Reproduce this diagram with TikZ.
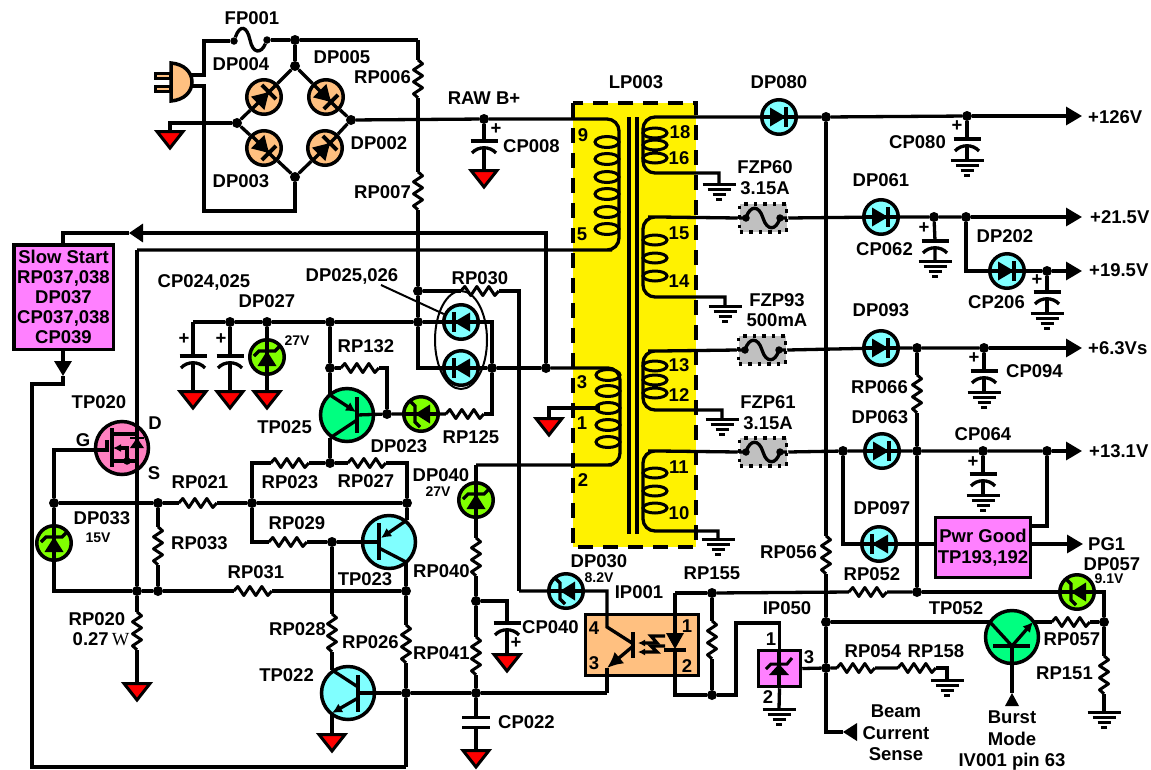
\documentclass[tikz,border=0pt]{standalone}
\usepackage{fontspec}
\setmainfont{Liberation Sans}
\newfontfamily\wfont{Liberation Serif}
\usepackage{xcolor}
\usetikzlibrary{arrows.meta}

\definecolor{diodecy}{HTML}{80FFFF}
\definecolor{diodeor}{HTML}{FFC080}
\definecolor{zenergr}{HTML}{80FF00}
\definecolor{trangr}{HTML}{00FF80}
\definecolor{boxmag}{HTML}{FF80FF}
\definecolor{fetpink}{HTML}{FF80C0}
\definecolor{fusegr}{HTML}{C0C0C0}

\tikzset{
	wire/.style={line width=3.3pt},
	rail/.style={line width=3.3pt,-{Triangle[length=16pt,width=18pt]}},
	zig/.style={line width=3pt,line join=round},
	turn/.style={line width=3pt},
	dot/.style={circle,fill=black,minimum size=10pt,inner sep=0pt},
	smalldot/.style={circle,fill=black,minimum size=7.5pt,inner sep=0pt},
	diodecirc/.style={circle,draw,line width=3.5pt,minimum size=34.5pt,inner sep=0pt},
	trancirc/.style={circle,draw,line width=3.5pt,minimum size=53pt,inner sep=0pt},
	rescell/.style={rectangle,inner sep=0pt},
	capcell/.style={rectangle,inner sep=0pt,minimum width=27pt,minimum height=7pt,anchor=north},
	magbox/.style={rectangle,draw,line width=3.5pt,fill=boxmag,inner sep=0pt,align=center},
	fusecell/.style={rectangle,fill=fusegr,draw,line width=3.5pt,dash pattern=on 3.5pt off 6pt,inner sep=0pt,minimum width=47pt,minimum height=28pt},
	lbl/.style={font=\bfseries\fontsize{18.5}{20.5}\selectfont,inner sep=0pt,align=center},
	small/.style={font=\bfseries\fontsize{14}{16}\selectfont,inner sep=0pt},
}

\newcommand{\jn}[2]{\node[dot] (#1) at (#2) {};}
\newcommand{\resh}[2]{\node[rescell,minimum width=38pt,minimum height=10pt] (#1) at (#2) {};
	\draw[zig] (#1.west) -- ++(4,-4.5) -- ++(6,9) -- ++(6,-9) -- ++(6,9) -- ++(6,-9) -- ++(6,9) -- ++(4,-4.5);}
\newcommand{\resv}[2]{\node[rescell,minimum width=10pt,minimum height=38pt] (#1) at (#2) {};
	\draw[zig] (#1.north) -- ++(4.5,4) -- ++(-9,6) -- ++(9,6) -- ++(-9,6) -- ++(9,6) -- ++(-9,6) -- ++(4.5,4);}
\newcommand{\rgnd}[2]{\coordinate (#1) at (#2);
	\draw[line width=3pt,fill=red] (#1) ++(-13,1.5) -- ++(26,0) -- ++(-13,16.5) -- cycle;}
\newcommand{\bgnd}[2]{\coordinate (#1) at (#2);
	\draw[line width=3pt] (#1) ++(-16.5,0) -- +(33,0) (#1) ++(-11.5,5) -- +(23,0) (#1) ++(-6.5,10) -- +(13,0) (#1) ++(-3,15) -- +(6,0);}
\newcommand{\capa}[2]{\node[capcell] (#1) at (#2) {};
	\begin{scope}[shift={(#2)}]
	\draw[wire] (-13.5,0) -- (13.5,0);
	\draw[wire] (-12,12) .. controls (-6,5) and (6,5) .. (12,12);
	\end{scope}}
\newcommand{\diode}[4]{\node[diodecirc,fill=#4] (#1) at (#2) {};
	\begin{scope}[shift={(#2)},rotate=#3]
	\draw[wire] (-17,0) -- (17,0);
	\fill (-9,-9.5) -- (-9,9.5) -- (7,0) -- cycle;
	\draw[line width=4pt] (7,-10) -- (7,10);
	\end{scope}}
\newcommand{\zener}[4]{\node[diodecirc,fill=#4] (#1) at (#2) {};
	\begin{scope}[shift={(#2)},rotate=#3]
	\draw[wire] (-17,0) -- (17,0);
	\fill (-9,-9.5) -- (-9,9.5) -- (6,0) -- cycle;
	\draw[line width=3.2pt] (1,-13) -- (6,-8) -- (6,8) -- (11,13);
	\end{scope}}
\newcommand{\fusebox}[2]{\node[fusecell] (#1) at (#2) {};
	\begin{scope}[shift={(#2)}]
	\draw[wire] (-24,0) -- (-17,0) .. controls (-13,-13) and (-4,-13) .. (0,0) .. controls (4,13) and (13,13) .. (17,0) -- (24,0);
	\node[smalldot] (#1a) at (-17,0) {};
	\node[smalldot] (#1b) at (17,0) {};
	\end{scope}}

\begin{document}
\begin{tikzpicture}[x=1pt,y=-1pt]
\useasboundingbox (0,0) rectangle (1151,769);
% transformer body first
\node[rectangle,fill=yellow,minimum width=123pt,minimum height=444pt,inner sep=0pt] (LP003) at (634.5,325) {};
\draw[line width=3.8pt] (629,117) -- (629,534) (637,117) -- (637,534);

% mains plug and bridge
\draw[line width=3pt,fill=diodeor] (155,73.5) rectangle (170,78.5) (155,86.5) rectangle (170,91.5);
\draw[line width=3.5pt,fill=diodeor] (171,63) .. controls (184,64) and (192,72) .. (192,82) .. controls (192,92) and (184,100) .. (171,101) -- cycle;
\coordinate (plugt) at (191,75);
\coordinate (plugb) at (190,86);
\jn{jF}{295,40}
\jn{jT}{295,66}
\jn{jL}{237,123}
\jn{jR}{351,120}
\jn{jB}{295,177}
\diode{DP004}{264,97}{45}{diodeor}
\diode{DP005}{326,97}{-45}{diodeor}
\diode{DP003}{264,148}{-45}{diodeor}
\diode{DP002}{325,148}{45}{diodeor}
\node[smalldot] (FPa) at (234,41) {};
\node[smalldot] (FPb) at (267,40) {};
\draw[wire] (FPa) .. controls (240,24) and (247,26) .. (250,40) .. controls (253,54) and (261,54) .. (FPb);
\coordinate (cA) at (204,41);
\coordinate (cB) at (204,211);
\coordinate (cC) at (418,40);
\rgnd{gL}{170,130}
\draw[wire] (plugt) -| (cA) -- (FPa);
\draw[wire] (plugb) -| (cB) -| (jB);
\draw[wire] (FPb) -- (jF) -- (cC);
\draw[wire] (jF) -- (jT);
\draw[wire] (jL) -| (gL);
\draw[wire] (jT) -- (DP004) (DP004) -- (jL) (jL) -- (DP003) (DP003) -- (jB);
\draw[wire] (jT) -- (DP005) (DP005) -- (jR) (jB) -- (DP002) (DP002) -- (jR);

% RAW B+
\jn{jRAW}{484,119}
\capa{CP008}{484,141}
\rgnd{gCP008}{484,169}
\draw[wire] (jR) -- (jRAW);
\draw[wire] (jRAW) -- (CP008.north) (CP008.south) -- (gCP008);
\draw[wire] (jRAW) [rounded corners=12pt] -- (619,119) -- (619,250) -- (600,250) [sharp corners] -- (137,250);

% windings
\draw[turn] (607,142) ellipse (12pt and 5.5pt) (607,159) ellipse (12pt and 5.5pt) (607,177) ellipse (12pt and 5.5pt) (607,194) ellipse (12pt and 5.5pt) (607,212) ellipse (12pt and 5.5pt) (607,229) ellipse (12pt and 5.5pt);
\draw[turn] (608,375) ellipse (12pt and 5.5pt) (608,391) ellipse (12pt and 5.5pt) (608,408) ellipse (12pt and 5.5pt) (608,425) ellipse (12pt and 5.5pt) (608,442) ellipse (12pt and 5.5pt);
\draw[turn] (655,133) ellipse (12pt and 5pt) (655,145) ellipse (12pt and 5pt) (655,158) ellipse (12pt and 5pt);
\draw[turn] (655,240) ellipse (12pt and 5pt) (655,258) ellipse (12pt and 5pt) (655,276) ellipse (12pt and 5pt);
\draw[turn] (655,366) ellipse (12pt and 5pt) (655,380) ellipse (12pt and 5pt) (655,393) ellipse (12pt and 5pt);
\draw[turn] (655,473) ellipse (12pt and 5pt) (655,491) ellipse (12pt and 5pt) (655,508) ellipse (12pt and 5pt);

% secondaries
\diode{DP080}{779,117}{0}{diodecy}
\jn{j126}{826,117}
\jn{jCP080}{967,116}
\coordinate (t126) at (1082,116);
\capa{CP080}{967,139}
\bgnd{gCP080}{967,160}
\bgnd{gW1}{719,184}
\draw[wire] (gW1) |- (660,173) [rounded corners=12pt] -- (643,173) -- (643,117) -- (DP080);
\draw[wire] (DP080) -- (j126) -- (jCP080);
\draw[rail] (jCP080) -- (t126);
\draw[wire] (jCP080) -- (CP080.north) (CP080.south) -- (gCP080);

\fusebox{FZP60}{763,218}
\diode{DP061}{881,217}{0}{diodecy}
\jn{jCP062}{934,217}
\jn{j215}{966,217}
\coordinate (t215) at (1082,217);
\capa{CP062}{935,241}
\bgnd{gCP062}{935,261}
\coordinate (c202) at (966,271);
\diode{DP202}{1007,271}{0}{diodecy}
\jn{jCP206}{1047,271}
\coordinate (t195) at (1082,271);
\capa{CP206}{1047,292}
\bgnd{gCP206}{1047,313}
\bgnd{gW2}{725,306}
\draw[wire] (gW2) |- (660,297) [rounded corners=12pt] -- (643,297) -- (643,217) -- (660,217) [sharp corners] -- (FZP60.west);
\draw[wire] (FZP60.east) -- (DP061) (DP061) -- (jCP062) -- (j215);
\draw[rail] (j215) -- (t215);
\draw[wire] (jCP062) -- (CP062.north) (CP062.south) -- (gCP062);
\draw[wire] (j215) -- (c202) -- (DP202) (DP202) -- (jCP206);
\draw[rail] (jCP206) -- (t195);
\draw[wire] (jCP206) -- (CP206.north) (CP206.south) -- (gCP206);

\fusebox{FZP93}{762,350}
\diode{DP093}{881,348}{0}{diodecy}
\jn{jRP066}{917,348}
\jn{jCP094}{984,348}
\coordinate (t63) at (1082,348);
\capa{CP094}{984,371}
\bgnd{gCP094}{984,392}
\resv{RP066}{917,394}
\jn{j917}{917,451}
\jn{j592}{917,592}
\bgnd{gW3}{722,419}
\draw[wire] (gW3) |- (660,410) [rounded corners=12pt] -- (643,410) -- (643,351) -- (660,351) [sharp corners] -- (FZP93.west);
\draw[wire] (FZP93.east) -- (DP093) (DP093) -- (jRP066) -- (jCP094);
\draw[rail] (jCP094) -- (t63);
\draw[wire] (jCP094) -- (CP094.north) (CP094.south) -- (gCP094);
\draw[wire] (jRP066) -- (RP066.north) (RP066.south) -- (j917) -- (j592);

\fusebox{FZP61}{763,452}
\jn{j843}{843,451}
\diode{DP063}{882,451}{0}{diodecy}
\jn{jCP064}{983,451}
\jn{j1046}{1047,451}
\coordinate (t131) at (1082,451);
\capa{CP064}{983,474}
\bgnd{gCP064}{983,495}
\bgnd{gW4}{718,539}
\draw[wire] (gW4) |- (660,531) [rounded corners=12pt] -- (643,531) -- (643,451) -- (660,451) [sharp corners] -- (FZP61.west);
\draw[wire] (FZP61.east) -- (j843) -- (DP063) (DP063) -- (j917) -- (jCP064) -- (j1046);
\draw[rail] (j1046) -- (t131);
\draw[wire] (jCP064) -- (CP064.north) (CP064.south) -- (gCP064);

\diode{DP097}{879,544}{180}{diodecy}
\node[magbox,minimum width=95pt,minimum height=60pt,font=\bfseries\fontsize{18.5}{21.5}\selectfont] (PwrGood) at (983,547.5) {Pwr Good\\TP193,192};
\coordinate (PGi) at (PwrGood.west |- DP097);
\coordinate (PGo) at (PwrGood.east |- DP097);
\coordinate (PGt) at (PwrGood.east |- 0,526);
\coordinate (t1) at (1083,544);
\draw[wire] (j843) |- (DP097) (DP097) -- (PGi);
\draw[wire] (j1046) |- (PGt);
\draw[rail] (PGo) -- (t1);

% dashed outline over the windings
\draw[line width=4pt,dash pattern=on 15pt off 10pt] (LP003.north west) rectangle (LP003.south east);

% RP006 RP007 and the start-up line
\resv{RP006}{418,79}
\resv{RP007}{418,191}
\jn{jRP030}{418,291}
\jn{jC4}{418,322}
\coordinate (c418) at (418,368);
\diode{DP025}{461,322}{180}{diodecy}
\diode{DP026}{461,368}{180}{diodecy}
\draw[line width=2pt] (461,340) ellipse (26pt and 49pt);
\jn{j492}{492,368}
\jn{j546}{546,368}
\resh{RP030}{480,291}
\coordinate (cDP030) at (519,591);
\draw[wire] (cC) -- (RP006.north) (RP006.south) -- (RP007.north) (RP007.south) -- (jRP030) -- (jC4) -- (c418) -- (DP026);
\draw[wire] (jRP030) -- (RP030.west);
\draw[wire] (RP030.east) -| (cDP030);
\draw[wire] (DP026) -- (j492) -- (j546);
\draw[wire] (DP025) -| (j492);
\coordinate (ptr) at (381,285);
\draw[line width=2pt] (ptr) -- (DP025);
\draw[wire] (j546) [rounded corners=12pt] -- (620,368) -- (620,465) -- (600,465) [sharp corners] -- (476,465);
\rgnd{gW0}{549,417}
\coordinate (w1) at (600,408);
\draw[wire] (w1) -| (gW0);

% slow start
\node[magbox,minimum width=99.5pt,minimum height=104.5pt,font=\bfseries\fontsize{18.5}{20}\selectfont] (SlowStart) at (63.5,297) {Slow Start\\RP037,038\\DP037\\CP037,038\\CP039};
\coordinate (c63) at (63,233);
\coordinate (t63a) at (129,233);
\coordinate (c233) at (546,233);
\coordinate (t63b) at (63,376);
\coordinate (c384) at (63,384);
\coordinate (c32a) at (32,384);
\coordinate (c32b) at (32,767);
\coordinate (c406) at (406,767);
\draw[wire,-{Triangle[length=14pt,width=18pt]}] (j546) -- (c233) -- (t63a);
\draw[wire] (t63a) -- (c63) -- (SlowStart.north -| c63);
\draw[wire,-{Triangle[length=15pt,width=17pt]}] (SlowStart.south -| c63) -- (t63b);
\draw[wire] (t63b) -- (c384) -- (c32a) -- (c32b) -- (c406);

% CP024,025 DP027
\coordinate (c193) at (193,322);
\jn{jC1}{230,322}
\jn{jC2}{267,322}
\jn{jC3}{330,322}
\capa{CP024}{193,356}
\capa{CP025}{230,356}
\zener{DP027}{267,357}{90}{zenergr}
\rgnd{gC1}{193,390}
\rgnd{gC2}{230,390}
\rgnd{gC3}{267,390}
\draw[wire] (c193) -- (jC1) -- (jC2) -- (jC3) -- (jC4) -- (DP025);
\draw[wire] (c193) -- (CP024.north) (CP024.south) -- (gC1);
\draw[wire] (jC1) -- (CP025.north) (CP025.south) -- (gC2);
\draw[wire] (jC2) -- (DP027) (DP027) -- (gC3);

% TP025
\node[trancirc,fill=trangr] (TP025) at (347,415) {};
\draw[line width=4.5pt] (357,397) -- (357,433);
\coordinate (TP025c) at (330,395);
\coordinate (TP025e) at (330,438);
\coordinate (TP025b) at (357,415);
\draw[wire,-{Latex[length=10pt,width=10pt]}] (TP025c) -- (356,412);
\draw[wire] (357,420) -- (TP025e);
\jn{j368}{330,368}
\jn{jb}{387,414}
\zener{DP023}{421,414}{180}{zenergr}
\resh{RP125}{465,414}
\resh{RP132}{360,368}
\draw[wire] (jC3) -- (j368) -- (TP025c);
\draw[wire] (j368) -- (RP132.west);
\draw[wire] (RP132.east) -| (jb);
\draw[wire] (TP025b) -- (jb) -- (DP023) (DP023) -- (RP125.west);
\draw[wire] (j492) |- (RP125.east);

% RP023 RP027 and the drive
\jn{j463}{330,463}
\jn{j407}{407,503}
\jn{j252}{252,503}
\jn{j158}{158,503}
\jn{j54}{54,503}
\resh{RP023}{290,463}
\resh{RP027}{367,463}
\resh{RP021}{198,503}
\draw[wire] (TP025e) -- (j463);
\draw[wire] (j252) |- (RP023.west);
\draw[wire] (RP023.east) -- (j463) -- (RP027.west);
\draw[wire] (RP027.east) -| (j407);
\draw[wire] (j54) -- (j158) -- (RP021.west) (RP021.east) -- (j252) -- (j407);

% TP020
\node[trancirc,fill=fetpink] (TP020) at (122,448) {};
\coordinate (TP020g) at (107,450);
\draw[wire] (j54) |- (TP020g) -- (107,440);
\draw[line width=3.5pt] (112,428) -- (112,467);
\draw[wire] (112,434) -- (137,434) (112,461) -- (137,461);
\draw[wire,-{Latex[length=8pt,width=8pt]}] (127,461) -- (127,448) -- (113,448);
\node[smalldot] (TP020s) at (127,461) {};
\draw[line width=2pt] (130,438) -- (144,438);
\fill (137,438) -- (130,448) -- (144,448) -- cycle;

% DP033 RP033 RP031
\zener{DP033}{54,543}{90}{zenergr}
\jn{j591a}{137,591}
\jn{j591b}{158,591}
\jn{j406}{406,591}
\coordinate (c54) at (54,591);
\resv{RP033}{158,546}
\resh{RP031}{253,591}
\resv{RP020}{137,631}
\rgnd{gRP020}{137,682}
\coordinate (c137) at (137,250);
\draw[wire] (j54) -- (DP033) (DP033) -- (c54) -- (j591a) -- (j591b) -- (RP031.west);
\draw[wire] (RP031.east) -- (j406);
\draw[wire] (j158) -- (RP033.north) (RP033.south) -- (j591b);
\draw[wire] (c137) -- (j591a) -- (RP020.north) (RP020.south) -- (gRP020);

% TP023 TP022
\node[trancirc,fill=diodecy] (TP023) at (389,542) {};
\draw[line width=4.5pt] (379,523) -- (379,560);
\coordinate (TP023e) at (407,520);
\coordinate (TP023c) at (406,562);
\coordinate (TP023b) at (379,542);
\draw[wire,-{Latex[length=10pt,width=10pt]}] (TP023e) -- (381,538);
\draw[wire] (379,548) -- (TP023c);
\jn{j332}{332,542}
\resh{RP029}{288,542}
\resv{RP028}{332,633}
\resv{RP026}{406,644}
\node[trancirc,fill=diodecy] (TP022) at (348,693) {};
\draw[line width=4.5pt] (358,675) -- (358,712);
\coordinate (TP022c) at (332,670);
\coordinate (TP022e) at (332,713);
\coordinate (TP022b) at (358,693);
\draw[wire] (TP022c) -- (358,687);
\draw[wire,-{Latex[length=10pt,width=10pt]}] (358,698) -- (TP022e);
\rgnd{gTP022}{332,733}
\jn{j406b}{406,693}
\jn{j476b}{476,693}
\coordinate (c607b) at (607,693);
\draw[wire] (j407) -- (TP023e);
\draw[wire] (TP023c) -- (j406);
\draw[wire] (j252) |- (RP029.west);
\draw[wire] (RP029.east) -- (j332) -- (TP023b);
\draw[wire] (j332) -- (RP028.north) (RP028.south) -- (TP022c);
\draw[wire] (TP022e) -- (gTP022);
\draw[wire] (j406) -- (RP026.north) (RP026.south) -- (j406b) -- (c406);
\draw[wire] (TP022b) -- (j406b) -- (j476b) -- (c607b);

% DP040 CP040 CP022
\zener{DP040}{476,500}{90}{zenergr}
\coordinate (c476) at (476,465);
\resv{RP040}{476,557}
\jn{j601}{476,601}
\resv{RP041}{476,656}
\coordinate (c507) at (507,601);
\capa{CP040}{507,623}
\rgnd{gCP040}{507,653}
\node[rescell,minimum width=27pt,minimum height=9pt] (CP022) at (476,722.5) {};
\draw[wire] (CP022.north west) -- (CP022.north east) (CP022.south west) -- (CP022.south east);
\rgnd{gCP022}{476,749}
\draw[wire] (c476) -- (DP040) (DP040) -- (RP040.north) (RP040.south) -- (j601) -- (RP041.north) (RP041.south) -- (j476b);
\draw[wire] (j601) -- (c507) -- (CP040.north) (CP040.south) -- (gCP040);
\draw[wire] (j476b) -- (CP022.north) (CP022.south) -- (gCP022);

% IP001
\node[rectangle,draw,line width=3.5pt,fill=diodeor,minimum width=113pt,minimum height=61pt,inner sep=0pt] (IP001) at (642,645) {};
\zener{DP030}{566,591}{180}{diodecy}
\coordinate (c607a) at (607,591);
\coordinate (IP001c) at (607,627);
\coordinate (IP001e) at (607,668);
\draw[wire] (cDP030) -- (DP030) (DP030) -- (c607a) -- (IP001c) -- (632,643);
\draw[line width=3.5pt] (633,632) -- (633,658);
\draw[wire,-{Latex[length=16pt,width=15pt]}] (632,647) -- (IP001e);
\draw[wire] (IP001e) -- (c607b);
\draw[wire,-{Latex[length=7pt,width=7pt]}] (665,636) -- (651,636) -- (657,643) -- (638,643);
\draw[wire,-{Latex[length=7pt,width=7pt]}] (665,646) -- (651,646) -- (657,652) -- (638,652);
\coordinate (c675a) at (675,593);
\coordinate (c675b) at (675,695);
\coordinate (IP001a) at (675,634);
\coordinate (IP001k) at (675,650);
\fill (666,633) -- (684,633) -- (675,649) -- cycle;
\draw[wire] (664,650) -- (686,650);
\jn{j712}{712,593}
\jn{j712b}{712,695}
\resv{RP155}{712,640}
\resh{RP052}{868,592}
\draw[wire] (c675a) -- (IP001a) (IP001k) -- (c675b) -- (j712b);
\draw[wire] (c675a) -- (j712) -- (RP155.north) (RP155.south) -- (j712b);
\draw[wire] (j712) -- (RP052.west) (RP052.east) -- (j592);

% IP050
\node[magbox,minimum width=42pt,minimum height=36pt] (IP050) at (779.5,668.5) {};
\coordinate (c736a) at (736,623);
\coordinate (c736b) at (736,695);
\draw[wire] (IP050.north) |- (c736a) -- (c736b) -- (j712b);
\draw[wire] (779,650) -- (779,687);
\fill (779,664) -- (769,675) -- (789,675) -- cycle;
\draw[line width=3pt] (766,669) -- (771,664) -- (787,664) -- (792,658);
\bgnd{gIP050}{779,709}
\draw[wire] (IP050.south) -- (gIP050);

% x=826 line
\resv{RP056}{826,555}
\jn{j622}{826,622}
\jn{j668}{826,668}
\coordinate (c732) at (826,732);
\coordinate (tBeam) at (843,732);
\fill (857,723) -- (857,741) -- (843,732) -- cycle;
\draw[wire] (j126) -- (RP056.north) (RP056.south) -- (j622) -- (j668) -- (c732) -- (tBeam);
\resh{RP054}{856,668}
\resh{RP158}{917,668}
\bgnd{gRP158}{947,680}
\draw[wire] (IP050.east) -- (j668) -- (RP054.west) (RP054.east) -- (RP158.west);
\draw[wire] (RP158.east) -| (gRP158);

% TP052 DP057
\node[trancirc,fill=trangr] (TP052) at (1012,637) {};
\draw[line width=4.5pt] (993,646) -- (1030,646);
\coordinate (TP052c) at (990,622);
\coordinate (TP052e) at (1033,622);
\coordinate (TP052b) at (1012,646);
\coordinate (tBurst) at (1012,693);
\draw[wire] (TP052c) -- (TP052b);
\draw[wire,-{Latex[length=10pt,width=10pt]}] (TP052b) -- (TP052e);
\draw[wire] (TP052b) -- (tBurst);
\fill (1005,706) -- (1019,706) -- (1012,693) -- cycle;
\zener{DP057}{1077,592}{180}{zenergr}
\coordinate (c1104) at (1104,592);
\jn{j1104}{1104,622}
\resh{RP057}{1071,622}
\resv{RP151}{1104,675}
\bgnd{gRP151}{1104,712}
\draw[wire] (j622) -- (TP052c);
\draw[wire] (TP052e) -- (RP057.west) (RP057.east) -- (j1104);
\draw[wire] (j592) -- (DP057) (DP057) -- (c1104) -- (j1104) -- (RP151.north) (RP151.south) -- (gRP151);

% labels
\node[lbl] (tFP001) at (252,18) {FP001};
\node[lbl] (tDP004) at (241,64) {DP004};
\node[lbl] (tDP005) at (342,57) {DP005};
\node[lbl] (tDP003) at (241,181) {DP003};
\node[lbl] (tDP002) at (379,143) {DP002};
\node[lbl,anchor=east] (tRP006) at (411,77) {RP006};
\node[lbl,anchor=east] (tRP007) at (411,192) {RP007};
\node[lbl] (tRAW) at (484,98) {RAW B+};
\node[lbl,anchor=west] (tCP008) at (503,146) {CP008};
\node[lbl] (pCP008) at (496,129) {+};
\node[lbl] (tLP003) at (636,82) {LP003};
\node[lbl] (tDP080) at (779,82) {DP080};
\node[lbl] (p9) at (583,135) {9};
\node[lbl] (p5) at (582,234) {5};
\node[lbl] (p3) at (582,382) {3};
\node[lbl] (p1) at (582,423) {1};
\node[lbl] (p2) at (583,480) {2};
\node[lbl] (p18) at (680,132) {18};
\node[lbl] (p16) at (679,158) {16};
\node[lbl] (p15) at (679,233) {15};
\node[lbl] (p14) at (679,281) {14};
\node[lbl] (p13) at (679,365) {13};
\node[lbl] (p12) at (679,395) {12};
\node[lbl] (p11) at (679,467) {11};
\node[lbl] (p10) at (679,513) {10};
\node[lbl] (tFZP60) at (765,167) {FZP60};
\node[lbl] (tA60) at (765,188) {3.15A};
\node[lbl] (tFZP93) at (777,300) {FZP93};
\node[lbl] (tA93) at (777,320) {500mA};
\node[lbl] (tFZP61) at (768,402) {FZP61};
\node[lbl] (tA61) at (768,423) {3.15A};
\node[lbl,anchor=west] (t126l) at (1088,117) {+126V};
\node[lbl,anchor=west] (t215l) at (1090,217) {+21.5V};
\node[lbl,anchor=west] (t195l) at (1089,270) {+19.5V};
\node[lbl,anchor=west] (t63l) at (1088,348) {+6.3Vs};
\node[lbl,anchor=west] (t131l) at (1089,451) {+13.1V};
\node[lbl,anchor=west] (tPG1) at (1088,544) {PG1};
\node[lbl,anchor=east] (tCP080) at (946,142) {CP080};
\node[lbl] (pCP080) at (957,126) {+};
\node[lbl] (tDP061) at (881,180) {DP061};
\node[lbl,anchor=east] (tCP062) at (913,249) {CP062};
\node[lbl] (pCP062) at (924,228) {+};
\node[lbl] (tDP202) at (1005,236) {DP202};
\node[lbl,anchor=east] (tCP206) at (1025,302) {CP206};
\node[lbl] (pCP206) at (1037,280) {+};
\node[lbl] (tDP093) at (881,310) {DP093};
\node[lbl,anchor=east] (tRP066) at (908,387) {RP066};
\node[lbl,anchor=west] (tCP094) at (1006,371) {CP094};
\node[lbl] (pCP094) at (974,358) {+};
\node[lbl] (tDP063) at (880,417) {DP063};
\node[lbl] (tCP064) at (983,434) {CP064};
\node[lbl] (pCP064) at (973,462) {+};
\node[lbl] (tDP097) at (882,508) {DP097};
\node[lbl,anchor=east] (tRP056) at (817,552) {RP056};
\node[lbl] (tRP052) at (872,574) {RP052};
\node[lbl] (tDP057) at (1112,564) {DP057};
\node[small] (t91V) at (1109,579) {9.1V};
\node[lbl] (tTP052) at (956,608) {TP052};
\node[lbl] (tRP057) at (1072,639) {RP057};
\node[lbl,anchor=east] (tRP151) at (1093,673) {RP151};
\node[lbl] (tRP054) at (873,651) {RP054};
\node[lbl] (tRP158) at (936,651) {RP158};
\node[lbl] (tBeam) at (896,733) {Beam\\[1pt]Current\\[1pt]Sense};
\node[lbl] (tBurst) at (1012,741) {Burst\\[1pt]Mode\\[1pt]IV001 pin 63};
\node[lbl] (tRP155) at (712,573) {RP155};
\node[lbl] (tIP050) at (787,608) {IP050};
\node[lbl] (tIP001) at (639,592) {IP001};
\node[lbl] (tDP030) at (599,561) {DP030};
\node[small] (t82V) at (599,578) {8.2V};
\node[lbl] (o4) at (594,628) {4};
\node[lbl] (o3) at (594,663) {3};
\node[lbl] (o1) at (687,626) {1};
\node[lbl] (o2) at (687,666) {2};
\node[lbl] (i1) at (771,639) {1};
\node[lbl] (i3) at (809,657) {3};
\node[lbl] (i2) at (768,697) {2};
\node[lbl,anchor=west] (tCP040) at (522,627) {CP040};
\node[lbl] (pCP040) at (516,643) {+};
\node[lbl,anchor=west] (tCP022) at (498,722) {CP022};
\node[lbl] (tDP040) at (441,475) {DP040};
\node[small] (t27Vb) at (438,492) {27V};
\node[lbl] (tDP2526) at (352,276) {DP025,026};
\node[lbl] (tRP030) at (480,278) {RP030};
\node[lbl] (tRP132) at (366,346) {RP132};
\node[lbl] (tDP023) at (399,446) {DP023};
\node[lbl] (tRP125) at (471,437) {RP125};
\node[lbl,anchor=east] (tTP025) at (312,427) {TP025};
\node[lbl] (tCP2425) at (204,282) {CP024,025};
\node[lbl] (tDP027) at (267,301) {DP027};
\node[small] (t27Va) at (297,341) {27V};
\node[lbl] (pCP024) at (184,339) {+};
\node[lbl] (pCP025) at (221,339) {+};
\node[lbl] (tTP020) at (99,402) {TP020};
\node[lbl] (tD) at (155,423) {D};
\node[lbl] (tS) at (154,473) {S};
\node[lbl] (tG) at (83,440) {G};
\node[lbl] (tRP021) at (200,482) {RP021};
\node[lbl] (tRP023) at (290,482) {RP023};
\node[lbl] (tRP027) at (366,481) {RP027};
\node[lbl] (tRP029) at (297,523) {RP029};
\node[lbl] (tDP033) at (102,518) {DP033};
\node[small] (t15V) at (98,538) {15V};
\node[lbl,anchor=west] (tRP033) at (171,543) {RP033};
\node[lbl] (tRP031) at (256,572) {RP031};
\node[lbl] (tTP023) at (365,579) {TP023};
\node[lbl,anchor=west] (tRP040) at (413,571) {RP040};
\node[lbl] (tRP020) at (97,619) {RP020};
\node[lbl] (t027) at (101,639) {0.27\,{\wfont\mdseries W}};
\node[lbl,anchor=east] (tRP028) at (326,629) {RP028};
\node[lbl,anchor=west] (tRP026) at (342,642) {RP026};
\node[lbl,anchor=west] (tRP041) at (413,653) {RP041};
\node[lbl,anchor=east] (tTP022) at (314,675) {TP022};
\end{tikzpicture}
\end{document}
